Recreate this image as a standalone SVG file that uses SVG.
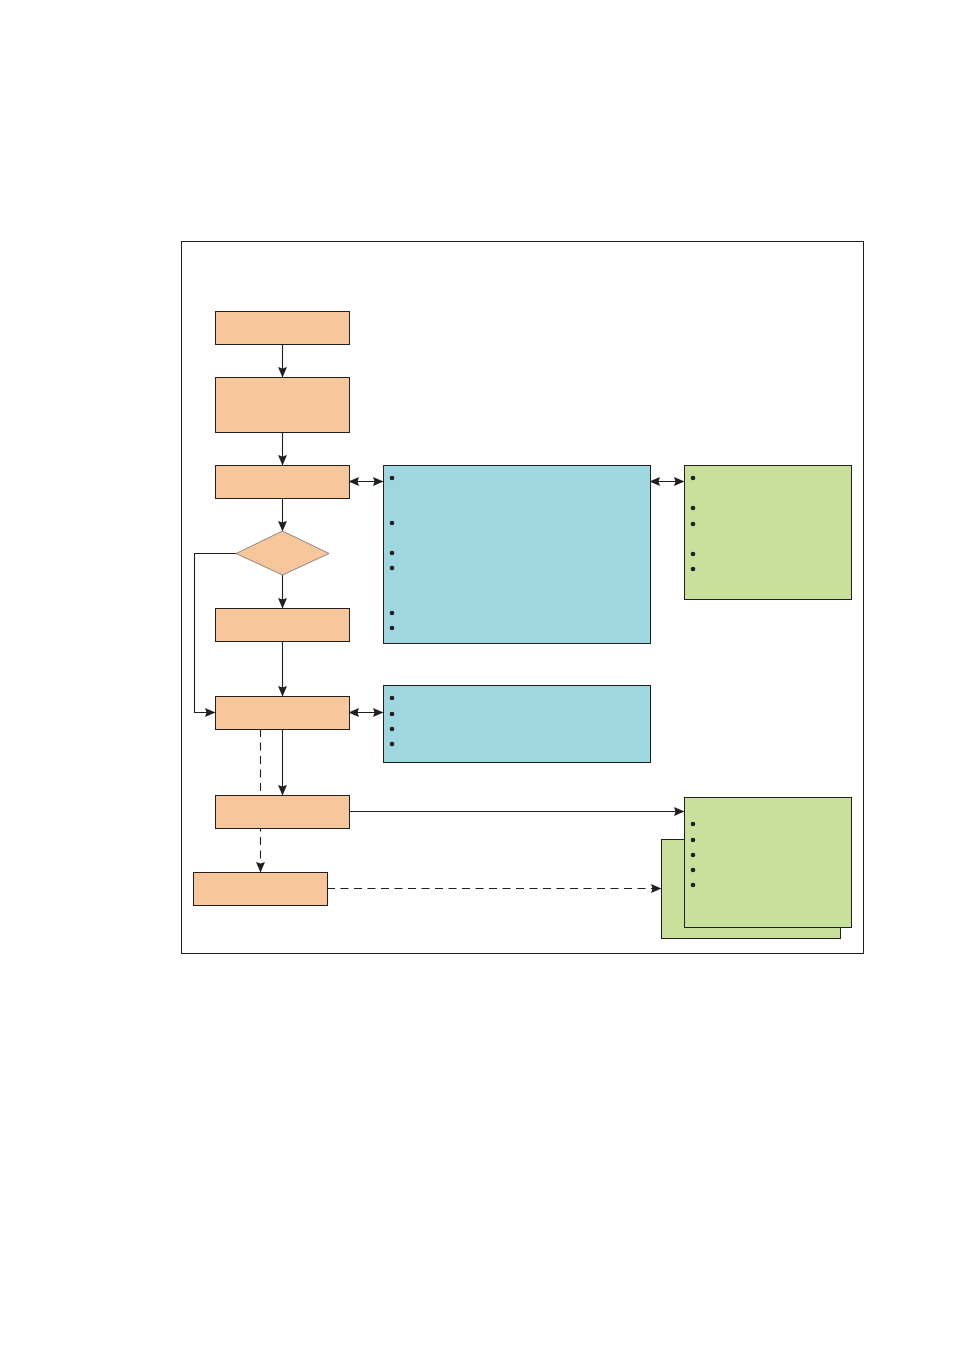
<svg xmlns="http://www.w3.org/2000/svg" width="954" height="1350" viewBox="0 0 954 1350">
<style>
.frame{fill:#fff;stroke:#231f20;stroke-width:1}
.step{fill:#f8c69b;stroke:#231f20;stroke-width:1}
.dec{fill:#f8c69b;stroke:#6d6e71;stroke-width:0.8}
.blue{fill:#9ed7df;stroke:#231f20;stroke-width:1}
.green{fill:#c9e09c;stroke:#231f20;stroke-width:1}
.ln{fill:none;stroke:#231f20;stroke-width:1.1}
.dash{fill:none;stroke:#231f20;stroke-width:1.1;stroke-dasharray:8,5.5}
.dot{fill:#231f20}
</style>
<defs>
<marker id="ah" markerWidth="11" markerHeight="10" refX="10" refY="4.5" orient="auto" markerUnits="userSpaceOnUse">
<path d="M0,0 L10.5,4.5 L0,9 L1.5,4.5 Z" fill="#231f20"/>
</marker>
<marker id="as" markerWidth="11" markerHeight="10" refX="0.5" refY="4.5" orient="auto" markerUnits="userSpaceOnUse">
<path d="M10.5,0 L0,4.5 L10.5,9 L9,4.5 Z" fill="#231f20"/>
</marker>
</defs>
<rect width="954" height="1350" fill="#fff"/>
<rect id="frame" class="frame" x="181.5" y="241.5" width="682" height="712"/>
<g id="connectors">
<line class="ln" x1="282.5" y1="344" x2="282.5" y2="377" marker-end="url(#ah)"/>
<line class="ln" x1="282.5" y1="432" x2="282.5" y2="465" marker-end="url(#ah)"/>
<line class="ln" x1="349" y1="481.5" x2="383" y2="481.5" marker-start="url(#as)" marker-end="url(#ah)"/>
<line class="ln" x1="650" y1="481.5" x2="684" y2="481.5" marker-start="url(#as)" marker-end="url(#ah)"/>
<line class="ln" x1="282.5" y1="498" x2="282.5" y2="531" marker-end="url(#ah)"/>
<line class="ln" x1="282.5" y1="575" x2="282.5" y2="608" marker-end="url(#ah)"/>
<polyline class="ln" points="236,553.5 194.5,553.5 194.5,712.5 215,712.5" marker-end="url(#ah)"/>
<line class="ln" x1="282.5" y1="641" x2="282.5" y2="696" marker-end="url(#ah)"/>
<line class="ln" x1="349" y1="712.5" x2="383" y2="712.5" marker-start="url(#as)" marker-end="url(#ah)"/>
<line class="ln" x1="282.5" y1="729" x2="282.5" y2="795" marker-end="url(#ah)"/>
<line class="dash" x1="260.5" y1="729" x2="260.5" y2="872" marker-end="url(#ah)"/>
<line class="ln" x1="349" y1="811.5" x2="684" y2="811.5" marker-end="url(#ah)"/>
<line class="dash" x1="327" y1="888.5" x2="661" y2="888.5" marker-end="url(#ah)"/>
</g>
<g id="n1"><rect class="step" x="215.5" y="311.5" width="134" height="33"/></g>
<g id="n2"><rect class="step" x="215.5" y="377.5" width="134" height="55"/></g>
<g id="n3"><rect class="step" x="215.5" y="465.5" width="134" height="33"/></g>
<g id="n4"><polygon class="dec" points="282.5,531 329,553.5 282.5,575 236,553.5"/></g>
<g id="n5"><rect class="step" x="215.5" y="608.5" width="134" height="33"/></g>
<g id="n6"><rect class="step" x="215.5" y="696.5" width="134" height="33"/></g>
<g id="n7"><rect class="step" x="215.5" y="795.5" width="134" height="33"/></g>
<g id="n8"><rect class="step" x="193.5" y="872.5" width="134" height="33"/></g>
<g id="b1"><rect class="blue" x="383.5" y="465.5" width="267" height="178"/>
<circle class="dot" cx="392" cy="478" r="2.3"/><circle class="dot" cx="392" cy="523" r="2.3"/><circle class="dot" cx="392" cy="553" r="2.3"/><circle class="dot" cx="392" cy="568" r="2.3"/><circle class="dot" cx="392" cy="613" r="2.3"/><circle class="dot" cx="392" cy="628" r="2.3"/></g>
<g id="g1"><rect class="green" x="684.5" y="465.5" width="167" height="134"/>
<circle class="dot" cx="693" cy="478" r="2.3"/><circle class="dot" cx="693" cy="508" r="2.3"/><circle class="dot" cx="693" cy="524" r="2.3"/><circle class="dot" cx="693" cy="554" r="2.3"/><circle class="dot" cx="693" cy="569" r="2.3"/></g>
<g id="b2"><rect class="blue" x="383.5" y="685.5" width="267" height="77"/>
<circle class="dot" cx="392" cy="698" r="2.3"/><circle class="dot" cx="392" cy="714" r="2.3"/><circle class="dot" cx="392" cy="729" r="2.3"/><circle class="dot" cx="392" cy="744" r="2.3"/></g>
<g id="g2back"><rect class="green" x="661.5" y="839.5" width="179" height="99"/></g>
<g id="g2"><rect class="green" x="684.5" y="797.5" width="167" height="130"/>
<circle class="dot" cx="693" cy="824" r="2.3"/><circle class="dot" cx="693" cy="840" r="2.3"/><circle class="dot" cx="693" cy="855" r="2.3"/><circle class="dot" cx="693" cy="870" r="2.3"/><circle class="dot" cx="693" cy="885" r="2.3"/></g>
</svg>
